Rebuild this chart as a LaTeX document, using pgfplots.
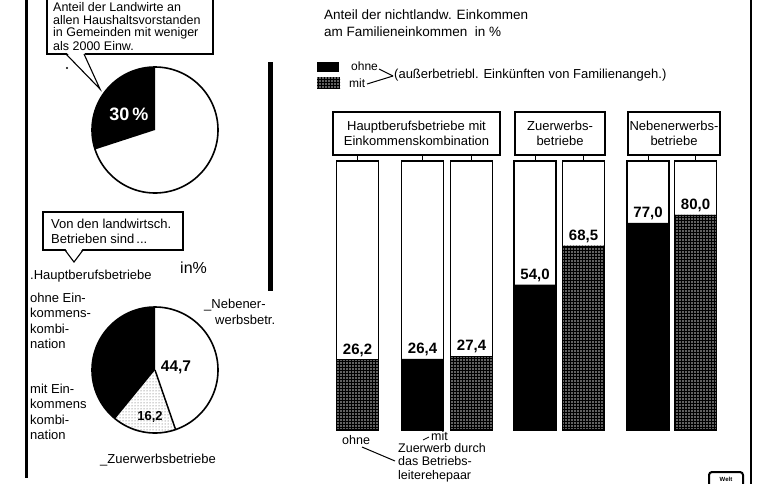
\documentclass[border=0pt]{standalone}
\usepackage{pgfplots}
\pgfplotsset{compat=1.18}
\usepackage{fontspec}
\setmainfont{Liberation Sans}
\usetikzlibrary{patterns}
\tikzset{mitfill/.style={fill=black!62, postaction={pattern=grid, pattern color=black}},
  txt/.style={font=\fontsize{13}{15.2}\selectfont, inner sep=0pt, align=left},
  txs/.style={font=\fontsize{12.5}{13.4}\selectfont, inner sep=0pt, align=left},
  val/.style={font=\fontsize{15}{15}\selectfont\bfseries, inner sep=1pt}}
\begin{document}
\begin{tikzpicture}
\begin{axis}[name=main, at={(0,0)}, anchor=north west, width=760pt, height=484pt,
  scale only axis, xmin=0, xmax=760, ymin=0, ymax=484, y dir=reverse, hide axis, clip=false]
% frame lines
\draw[line width=2.5pt] (26.5,0) -- (26.5,478);
\draw[line width=2.5pt] (751,0) -- (751,484);
\fill (268,62) rectangle (273,291);
% ---- callout 1
\draw[line width=1.3pt, fill=white] (47,-6) rectangle (213,54);
\fill[white] (66,52) -- (100,89) -- (84,52) -- cycle;
\draw[line width=1.1pt] (66,54) -- (100,89) -- (84,54);
\node[txs, anchor=west] at (53,7) {Anteil der Landwirte an};
\node[txs, anchor=west] at (53,20) {allen Haushaltsvorstanden};
\node[txs, anchor=west] at (53,33) {in Gemeinden mit weniger};
\node[txs, anchor=west] at (53,46) {als 2000 Einw.};
\fill (67,68) circle (1.2pt);
% ---- pie 1 (30 / 70)
\fill[white] (155,130) circle (63pt);
\fill[black] (155,130) -- ++(90:63pt) arc[start angle=90, end angle={90+30*3.6}, radius=63pt] -- cycle;
\draw[line width=1.6pt] (155,130) circle (63pt);
\node[font=\fontsize{18}{18}\selectfont\bfseries, text=white] at (129,114) {30\,\%};
% ---- callout 2
\draw[line width=1.3pt, fill=white] (43,212) rectangle (183,250);
\fill[white] (65,248) -- (74,262) -- (83,248) -- cycle;
\draw[line width=1.1pt] (65,250) -- (74,262) -- (83,250);
\node[txt, anchor=west] at (51,224) {Von den landwirtsch.};
\node[txt, anchor=west] at (51,239) {Betrieben sind\,...};
\node[txt, anchor=west] at (30,276) {.Hauptberufsbetriebe};
\node[font=\fontsize{16}{16}\selectfont, anchor=west, inner sep=0pt] at (180,268) {in\%};
% ---- pie 2 (44.7 / 16.2 / 39.1)
\fill[white] (155,370) circle (63pt);
\fill[black] (155,370) -- ++({90-(44.7+16.2)*3.6}:63pt) arc[start angle={90-(44.7+16.2)*3.6}, end angle=-270, radius=63pt] -- cycle;
\path[pattern=dots, pattern color=black!70] (155,370) -- ++({90-44.7*3.6}:63pt) arc[start angle={90-44.7*3.6}, end angle={90-(44.7+16.2)*3.6}, radius=63pt] -- cycle;
\draw[line width=1.5pt] (155,370) -- ++({90-44.7*3.6}:63pt);
\draw[line width=1.6pt] (155,370) circle (63pt);
\node[font=\fontsize{15.5}{15.5}\selectfont\bfseries, inner sep=0pt] at (176,367) {44,7};
\node[font=\fontsize{13}{13}\selectfont\bfseries, inner sep=0pt] at (150,417) {16,2};
\node[txt, anchor=west] at (204,305) {\_Nebener-};
\node[txt, anchor=west] at (215,320) {werbsbetr.};
\node[txt, anchor=north west] at (30,293) {ohne Ein-\\kommens-\\kombi-\\nation};
\node[txt, anchor=north west] at (30,384) {mit Ein-\\kommens\\kombi-\\nation};
\node[txt, anchor=west] at (100,460) {\_Zuerwerbsbetriebe};
% ---- right panel title + legend
\node[font=\fontsize{13.5}{17}\selectfont, anchor=north west, align=left, inner sep=0pt] at (324,10) {Anteil der nichtlandw. Einkommen\\am Familieneinkommen \ in \%};
\fill (317,62) rectangle (339,72);
\path[mitfill] (317,77) rectangle (340,88);
\node[font=\fontsize{12}{12}\selectfont, inner sep=0pt, anchor=west] at (351,66) {ohne};
\node[font=\fontsize{12}{12}\selectfont, inner sep=0pt, anchor=west] at (349,83) {mit};
\draw[line width=1pt] (379,69) -- (393,76);
\draw[line width=1pt] (367,84) -- (393,76);
\node[txt, anchor=west] at (394,75) {(außerbetriebl. Einkünften von Familienangeh.)};
% ---- group boxes
\draw[line width=1.3pt] (333,112) rectangle (500,155);
\node[txt, align=center] at (416.5,133.5) {Hauptberufsbetriebe mit\\Einkommenskombination};
\draw[line width=1.3pt] (515,112) rectangle (605,155);
\node[txt, align=center] at (560,133.5) {Zuerwerbs-\\betriebe};
\draw[line width=1.3pt] (628,112) rectangle (720,155);
\node[txt, align=center] at (674,133.5) {Nebenerwerbs-\\betriebe};
\draw[line width=1pt] (357.5,155) -- (357.5,161);
\draw[line width=1pt] (422.5,155) -- (422.5,161);
\draw[line width=1pt] (471.5,155) -- (471.5,161);
\draw[line width=1pt] (535,155) -- (535,161);
\draw[line width=1pt] (583.5,155) -- (583.5,161);
\draw[line width=1pt] (648,155) -- (648,161);
\draw[line width=1pt] (695.5,155) -- (695.5,161);
% ---- bottom labels
\node[txs, anchor=west] at (342,440) {ohne};
\draw[line width=1pt] (362,447) -- (395,461);
\draw[line width=0.8pt] (423,440) -- (429,437);
\node[txs, anchor=west] at (431,436) {mit};
\node[txs, anchor=north west] at (398,443) {Zuerwerb durch\\das Betriebs-\\leiterehepaar};
% logo
\draw[line width=2pt, rounded corners=3pt, fill=white] (709,472) rectangle (743,490);
\node[font=\fontsize{6}{6}\selectfont\bfseries, inner sep=0pt] at (726,479) {Welt};
\coordinate (barbl) at (0,430);
\end{axis}
\begin{axis}[at={(barbl)}, anchor=south west, width=760pt, height=269pt, scale only axis,
  xmin=0, xmax=760, ymin=0, ymax=100, hide axis, clip=false,
  /pgf/number format/assume math mode=true]
\addplot[ybar, bar width=42, bar shift=0pt, fill=white, draw=none]
  coordinates {(357.5,100)(422.5,100)(471.5,100)(535,100)(583.5,100)(648,100)(695.5,100)};
\addplot[ybar, bar width=42, bar shift=0pt, fill=black, draw=black,
  nodes near coords={\pgfmathprintnumber[fixed,zerofill,precision=1,use comma]{\pgfplotspointmeta}},
  every node near coord/.append style={val, anchor=south, yshift=2pt}]
  coordinates {(422.5,26.4)(535,54.0)(648,77.0)};
\addplot[ybar, bar width=42, bar shift=0pt, mitfill, draw=black,
  nodes near coords={\pgfmathprintnumber[fixed,zerofill,precision=1,use comma]{\pgfplotspointmeta}},
  every node near coord/.append style={val, anchor=south, yshift=2pt}]
  coordinates {(357.5,26.2)(471.5,27.4)(583.5,68.5)(695.5,80.0)};
\addplot[ybar, bar width=42, bar shift=0pt, fill=none, draw=black, line width=1.4pt]
  coordinates {(357.5,100)(422.5,100)(471.5,100)(535,100)(583.5,100)(648,100)(695.5,100)};
\end{axis}
\pgfresetboundingbox
\path[use as bounding box] (main.north west) rectangle (main.south east);
\end{tikzpicture}
\end{document}
